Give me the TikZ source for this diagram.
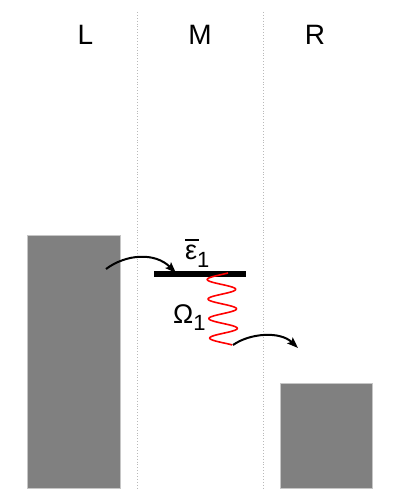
\documentclass[tikz,border=0pt]{standalone}
\usepackage{fontspec}
\setmainfont{Liberation Sans}
\usetikzlibrary{arrows.meta}
\begin{document}
\begin{tikzpicture}[x=1pt,y=-1pt,
  lbl/.style={font=\fontsize{28}{30}\selectfont, inner sep=0pt},
  sym/.style={font=\fontsize{27}{29}\selectfont, inner sep=0pt},
  divider/.style={draw=gray!55, dotted, line width=0.9pt},
  lead/.style={draw=gray!45, fill=black!50, line width=0.8pt},
  arr/.style={draw=black, line width=2pt, -{Stealth[length=11pt,width=8pt,inset=2pt]}},
  wave/.style={draw=red, line width=1.6pt},
  level/.style={draw=black, line width=6pt}]
\useasboundingbox (0,0) rectangle (400,500);
% dividers
\coordinate (d1t) at (137,12); \coordinate (d1b) at (137,490);
\coordinate (d2t) at (263,12); \coordinate (d2b) at (263,490);
\draw[divider] (d1t) -- (d1b);
\draw[divider] (d2t) -- (d2b);
% leads
\draw[lead] (27,235) rectangle (120,488);
\draw[lead] (280,383) rectangle (372,488);
% labels
\node[lbl] (L) at (85.5,35) {L};
\node[lbl] (M) at (200,35) {M};
\node[lbl] (R) at (315,35) {R};
% level
\coordinate (lvlL) at (154,273.5);
\coordinate (lvlR) at (246,273.5);
\draw[level] (lvlL) -- (lvlR);
\node[sym, anchor=base west] (eps) at (185,259)
  {\makebox[0pt][l]{\raisebox{18pt}{\rule{14pt}{2.2pt}}}ε\raisebox{-8pt}{\fontsize{22}{22}\selectfont 1}};
\node[sym, anchor=base west] (Om) at (173,323)
  {Ω\raisebox{-7pt}{\fontsize{22}{22}\selectfont 1}};
% wavy line
\draw[wave] plot[domain=0:1, samples=240]
  ({221 + 3*\x + 14*cos(60 + 1327*\x)}, {273 + 72*\x});
% arrows
\coordinate (a1s) at (106,269); \coordinate (a1e) at (176,273);
\draw[arr] (a1s) .. controls (126,254) and (155,252) .. (a1e);
\coordinate (a2s) at (233,345); \coordinate (a2e) at (298,348);
\draw[arr] (a2s) .. controls (250,333) and (280,331) .. (a2e);
\end{tikzpicture}
\end{document}
